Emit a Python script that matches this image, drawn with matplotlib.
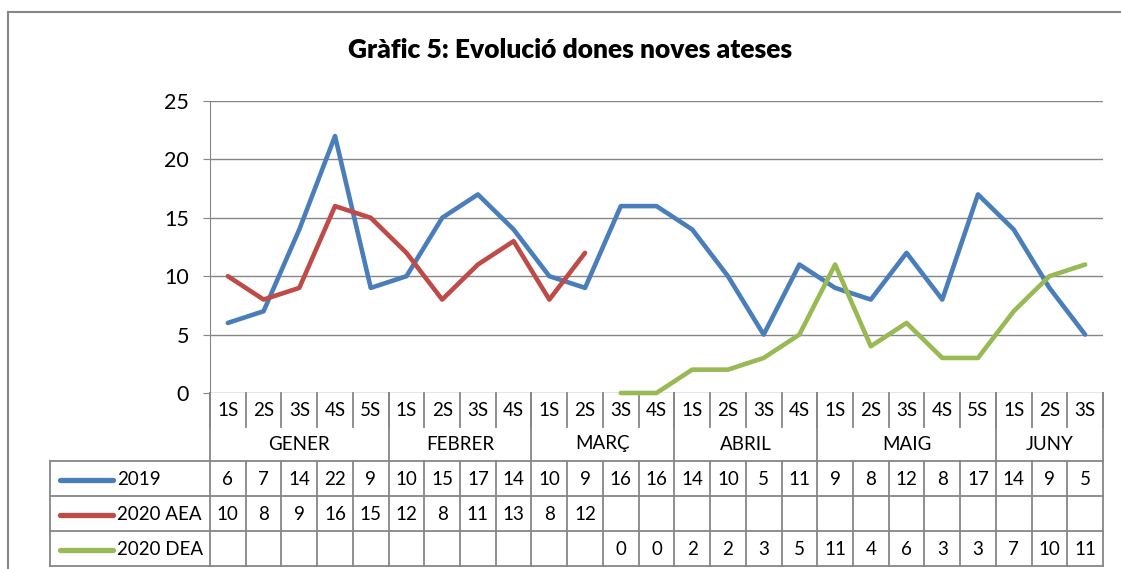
import numpy as np
import matplotlib.pyplot as plt
from matplotlib.transforms import blended_transform_factory

plt.rcParams['font.family'] = ['Lato', 'DejaVu Sans']

# dades
setmanes = ['1S', '2S', '3S', '4S', '5S',
            '1S', '2S', '3S', '4S',
            '1S', '2S', '3S', '4S',
            '1S', '2S', '3S', '4S',
            '1S', '2S', '3S', '4S', '5S',
            '1S', '2S', '3S']
mesos = ['GENER', 'FEBRER', 'MARÇ', 'ABRIL', 'MAIG', 'JUNY']
setmanes_per_mes = [5, 4, 4, 4, 5, 3]

dades_2019 = [6, 7, 14, 22, 9, 10, 15, 17, 14, 10, 9, 16, 16, 14, 10, 5, 11, 9, 8, 12, 8, 17, 14, 9, 5]
dades_2020_aea = [10, 8, 9, 16, 15, 12, 8, 11, 13, 8, 12] + [None] * 14
dades_2020_dea = [None] * 11 + [0, 0, 2, 2, 3, 5, 11, 4, 6, 3, 3, 7, 10, 11]

series = [('2019', dades_2019, '#4A7EBB'),
          ('2020 AEA', dades_2020_aea, '#BE4B48'),
          ('2020 DEA', dades_2020_dea, '#98B954')]

W, H = 1121, 569
fig = plt.figure(figsize=(W / 100, H / 100), dpi=100)

# posicio de l'area del grafic en pixels
x0, x1 = 210, 1103
y_top, y_bot = 101, 393
ax = fig.add_axes([x0 / W, 1 - y_bot / H, (x1 - x0) / W, (y_bot - y_top) / H])

n = len(setmanes)
x = np.arange(n)
gris = '#868686'

for nom, vals, color in series:
    v = np.array([np.nan if a is None else a for a in vals], dtype=float)
    ax.plot(x, v, color=color, lw=3.3, solid_capstyle='round', solid_joinstyle='round', clip_on=False, zorder=3)

ax.set_xlim(-0.5, n - 0.5)
ax.set_ylim(0, 25)
ax.set_yticks(range(0, 26, 5))
ax.yaxis.grid(True, color=gris, lw=1)
ax.set_axisbelow(True)
ax.set_xticks([])
for s in ['top', 'right', 'bottom']:
    ax.spines[s].set_visible(False)
ax.spines['left'].set_color(gris)
ax.tick_params(axis='y', length=5, color=gris, labelsize=15.5, pad=10)

# taula de dades sota el grafic
tr = blended_transform_factory(ax.transData, ax.transAxes)

def ya(p):
    return (y_bot - p) / (y_bot - y_top)

px_x = (n) / (x1 - x0)
x_leg = -0.5 - (x0 - 50) * px_x

r_set = 427
r_mes = 461
files = [461, 496, 531, 566]
kw = dict(color=gris, lw=1.3, transform=tr, clip_on=False)

# separadors de setmanes
for i in range(n + 1):
    ax.plot([i - 0.5, i - 0.5], [ya(y_bot), ya(r_set)], **kw)
# separadors de mesos
fronteres = np.cumsum([0] + setmanes_per_mes)
for f in fronteres:
    ax.plot([f - 0.5, f - 0.5], [ya(y_bot), ya(r_mes)], **kw)
# files de dades
for f in files:
    ax.plot([x_leg, n - 0.5], [ya(f), ya(f)], **kw)
for i in range(n + 1):
    ax.plot([i - 0.5, i - 0.5], [ya(files[0]), ya(files[-1])], **kw)
ax.plot([x_leg, x_leg], [ya(files[0]), ya(files[-1])], **kw)

fs = 13.5
for i, s in enumerate(setmanes):
    ax.text(i, ya(410), s, transform=tr, ha='center', va='center', fontsize=fs)
for j, m in enumerate(mesos):
    c = (fronteres[j] + fronteres[j + 1] - 1) / 2
    ax.text(c, ya(444), m, transform=tr, ha='center', va='center', fontsize=fs)

for k, (nom, vals, color) in enumerate(series):
    yc = ya((files[k] + files[k + 1]) / 2 + 1)
    for i, v in enumerate(vals):
        if v is not None:
            ax.text(i, yc, str(v), transform=tr, ha='center', va='center', fontsize=fs)
    ax.plot([x_leg + 10 * px_x, x_leg + 63 * px_x], [yc, yc], color=color, lw=3.8,
            solid_capstyle='round', transform=tr, clip_on=False)
    ax.text(x_leg + 67 * px_x, yc, nom, transform=tr, ha='left', va='center', fontsize=fs)

fig.text(570 / W, 1 - 50 / H, 'Gràfic 5: Evolució dones noves ateses', ha='center', va='center',
         fontsize=19, fontweight='heavy')

# marc exterior del grafic
fig.add_artist(plt.Line2D([8 / W, 8 / W], [0, 1 - 12 / H], color=gris, lw=1.5))
fig.add_artist(plt.Line2D([8 / W, 1], [1 - 12 / H, 1 - 12 / H], color=gris, lw=1.5))

fig.savefig('out.png', dpi=100)
